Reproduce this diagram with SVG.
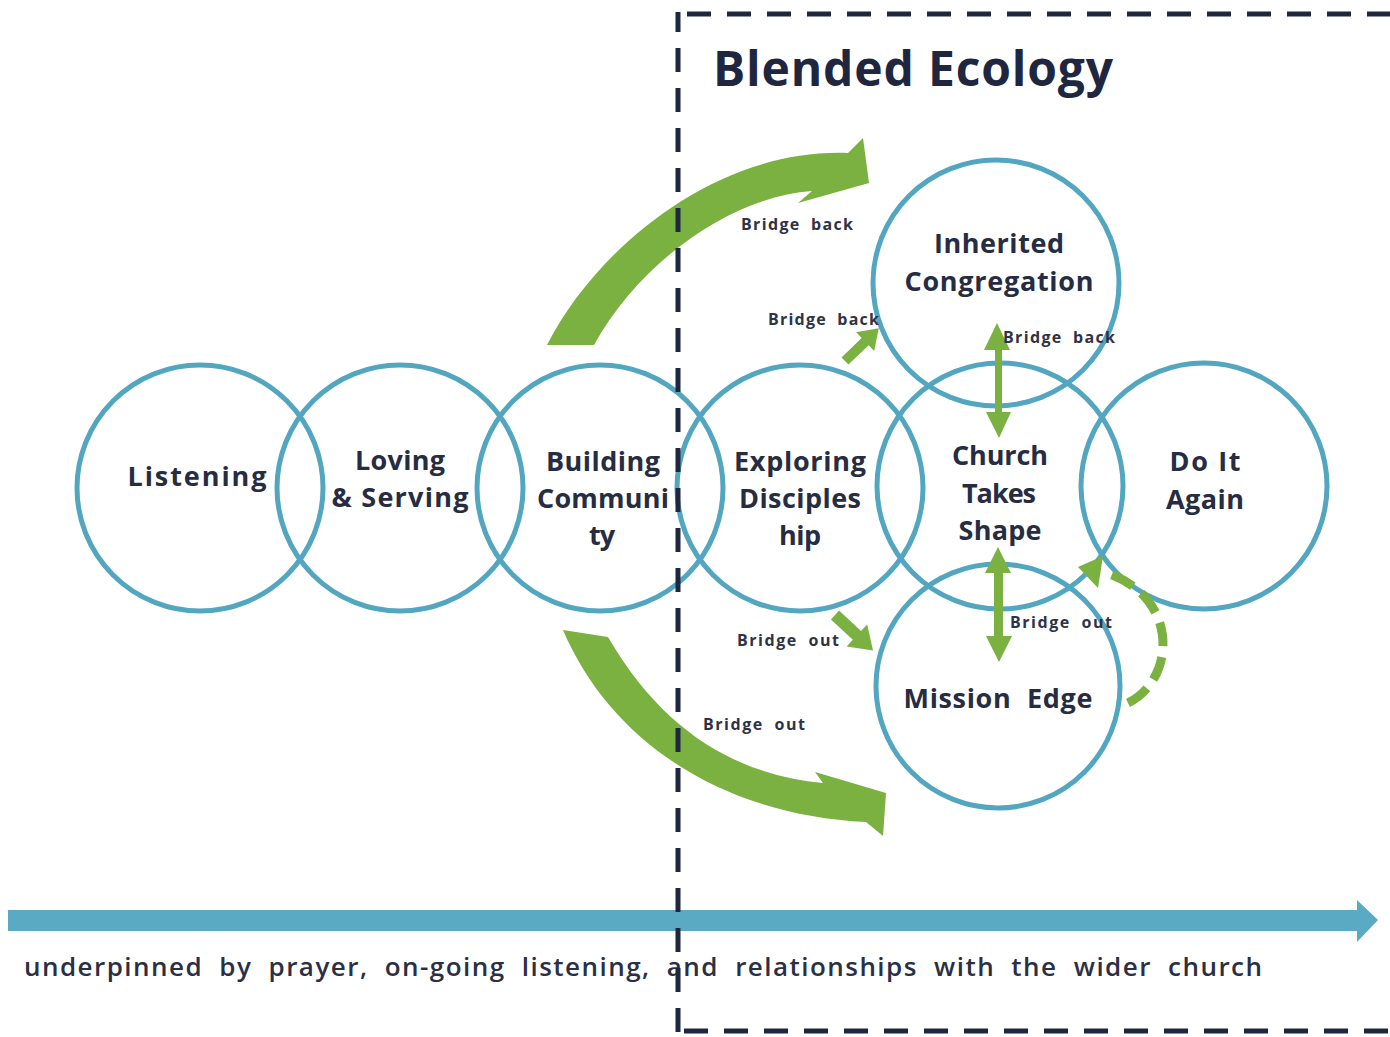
<svg xmlns="http://www.w3.org/2000/svg" width="1390" height="1037" viewBox="0 0 1390 1037">
<style>
.c{fill:none;stroke:#52a6c0;stroke-width:5}
.t{font-family:"Open Sans","Noto Sans",sans-serif;font-weight:700;font-size:27px;fill:#262c42;text-anchor:middle}
.s{font-family:"Open Sans","Noto Sans",sans-serif;font-weight:700;font-size:16px;fill:#2e3346;word-spacing:5px}
.g{fill:#7ab140}
.d{fill:none;stroke:#1e2640;stroke-width:5;stroke-dasharray:24 16}
</style>
<rect width="1390" height="1037" fill="#ffffff"/>
<g id="bottom-arrow">
<path d="M8,910 L1357,910 L1357,900 L1378,920 L1357,942 L1357,931 L8,931 Z" fill="#5aaac4"/>
</g>
<g id="nodes">
<g id="listening"><circle class="c" cx="200" cy="488" r="123"/><text class="t" x="197" y="486" textLength="139">Listening</text></g>
<g id="loving-serving"><circle class="c" cx="400" cy="488" r="123"/><text class="t" x="400" y="470" textLength="90">Loving</text><text class="t" x="400" y="507" textLength="137">&amp; Serving</text></g>
<g id="building-community"><circle class="c" cx="600" cy="488" r="123"/><text class="t" x="603" y="471" textLength="114">Building</text><text class="t" x="603" y="508" textLength="132">Communi</text><text class="t" x="602" y="545" textLength="26">ty</text></g>
<g id="exploring-discipleship"><circle class="c" cx="800" cy="488" r="123"/><text class="t" x="800" y="471" textLength="132">Exploring</text><text class="t" x="800" y="508" textLength="122">Disciples</text><text class="t" x="800" y="545" textLength="42">hip</text></g>
<g id="church-takes-shape"><circle class="c" cx="1000" cy="486" r="123"/><text class="t" x="1000" y="465" textLength="96">Church</text><text class="t" x="999" y="503" textLength="74">Takes</text><text class="t" x="1000" y="540" textLength="83">Shape</text></g>
<g id="do-it-again"><circle class="c" cx="1204" cy="486" r="123"/><text class="t" x="1205" y="471" textLength="71">Do It</text><text class="t" x="1205" y="509" textLength="78">Again</text></g>
<g id="inherited-congregation"><circle class="c" cx="996" cy="283" r="123"/><text class="t" x="999" y="253" textLength="130">Inherited</text><text class="t" x="999" y="291" textLength="189">Congregation</text></g>
<g id="mission-edge"><circle class="c" cx="998" cy="686" r="122"/><text class="t" x="998" y="708" textLength="189" style="word-spacing:8px">Mission Edge</text></g>
</g>
<g id="connectors">
<path class="g" d="M547,345 C595,250 715,148 848,153 L863,138 L869,183 L798,203 L812,191 C730,197 640,262 594,345 Z"/>
<path class="g" d="M563,630 C610,740 720,815 866,822 L883,836 L886,793 L815,772 L823,783 C740,775 665,735 608,637 Z"/>
<polygon class="g" transform="translate(845,361) rotate(-44)" points="0,-5 28,-5 28,-13 47,0 28,13 28,5 0,5"/>
<polygon class="g" transform="translate(835,615) rotate(43)" points="0,-6 30,-6 30,-15 52,0 30,15 30,6 0,6"/>
<polygon class="g" points="997,323 1010,350 1002,350 1002,412 1011,412 999,438 986,412 995,412 995,350 984,350"/>
<polygon class="g" points="998,547 1011,573 1003,573 1003,636 1012,636 999,662 986,636 994,636 994,573 985,573"/>
<path d="M1128,703 C1175,680 1180,600 1110,574" fill="none" stroke="#7ab140" stroke-width="9" stroke-dasharray="24 11"/>
<polygon class="g" points="1078,567 1103,556 1098,588"/>
</g>
<g id="labels">
<text class="s" x="741" y="230" textLength="112">Bridge back</text>
<text class="s" x="768" y="325" textLength="111">Bridge back</text>
<text class="s" x="1003" y="343" textLength="112">Bridge back</text>
<text class="s" x="737" y="646" textLength="102">Bridge out</text>
<text class="s" x="1010" y="628" textLength="102">Bridge out</text>
<text class="s" x="703" y="730" textLength="102">Bridge out</text>
</g>
<g id="title">
<text x="713" y="86" font-family="'Open Sans','Noto Sans',sans-serif" font-weight="700" font-size="48" fill="#1f2740" textLength="400">Blended Ecology</text>
</g>
<g id="footer">
<text x="24" y="976" font-family="'Open Sans','Noto Sans',sans-serif" font-weight="600" font-size="26" fill="#2a2f45" word-spacing="8" textLength="1238">underpinned by prayer, on-going listening, and relationships with the wider church</text>
</g>
<g id="boundary">
<path class="d" d="M678,1032 L678,12"/>
<path class="d" d="M687,14 L1390,14"/>
<path class="d" d="M684,1031 L1390,1031"/>
</g>
</svg>
